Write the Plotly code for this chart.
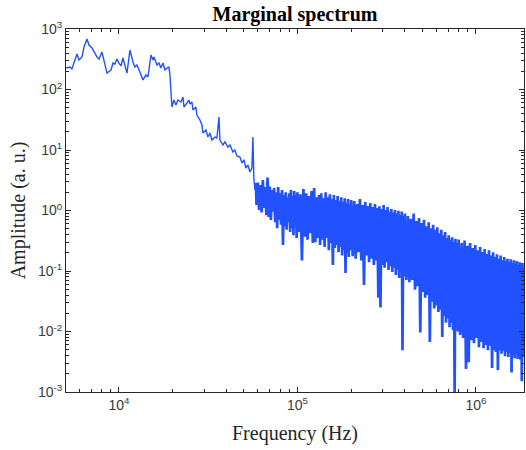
import math
import plotly.graph_objects as go

# ---- traced low-frequency part (kHz, a.u.) ----
freq_low_khz = [5.05, 5.31, 5.45, 5.60, 5.82, 5.97, 6.21, 6.37, 6.62, 6.79,
                7.06, 7.53, 7.73, 8.03, 8.24, 8.57, 9.02, 9.26, 9.50, 9.74,
                10.0, 10.26, 10.53, 10.66, 11.09, 11.52, 11.82, 11.98, 12.29, 12.61,
                13.11, 13.63, 14.17, 14.54, 15.11, 15.50, 15.71, 16.33, 16.76, 17.19,
                17.64, 18.10, 18.58, 19.06, 19.31, 19.56, 19.81, 20.33, 20.86, 21.40,
                22.25, 22.83, 23.13, 24.04, 24.67, 25.0, 25.64, 25.97, 27.0, 27.35,
                28.44, 29.17, 29.55, 30.72, 31.52, 32.35, 33.19, 34.5, 35.4, 36.33,
                36.8, 38.25, 39.25, 40.80, 41.9, 43.5, 44.65, 45.8, 47.6, 48.9,
                50.2, 51.4, 52.8, 54.2, 55.6, 56.3, 57.0, 57.8, 58.5]
amp_low = [226, 235, 218, 285, 386, 307, 345, 504, 684, 544,
           485, 345, 319, 417, 307, 187, 210, 274, 264, 319,
           274, 245, 332, 285, 187, 450, 307, 285, 235, 254,
           195, 144, 174, 161, 372, 307, 345, 254, 274, 226,
           274, 210, 226, 235, 174, 87.5, 51.4, 67, 55.4, 67,
           62.1, 75.2, 51.4, 59.8, 67, 57.5, 62.1, 45.8, 51.4, 37.9,
           31.3, 25.9, 19.1, 21.4, 16.4, 19.1, 14.6, 16.4, 15.8, 35.1,
           14.6, 12.1, 13.6, 11.2, 12.1, 9.27, 10.0, 7.96, 7.66, 6.1,
           6.84, 5.04, 5.65, 4.33, 5.04, 16.4, 3.44, 2.18, 2.85]

# ---- dense broadband part (kHz, a.u.) ----
freq_mid_khz = [59, 60, 61, 62, 63, 64, 65, 66, 67, 68,
                69, 70, 71, 72, 73, 74, 75, 76, 77, 78,
                79, 80, 81, 82, 83, 84, 85, 86, 87, 88,
                89, 90, 91, 92, 93, 94, 95, 96, 97, 98,
                99, 100,
                102, 104, 106, 108, 110, 112, 114, 116, 118, 120,
                122, 124, 126, 128, 130, 132, 134, 136, 138, 140,
                142, 144, 146, 148, 150, 152, 154, 156, 158, 160,
                162, 164, 166, 168, 170, 172, 174, 176, 178, 180,
                182, 184, 186, 188, 190, 192, 194, 196, 198, 200]
amp_mid = [1.23, 2.9, 1.02, 2.64, 0.93, 3.19, 1.10, 2.44, 0.84, 3.5,
           0.78, 2.5, 0.70, 2.18, 0.96, 2.35, 0.64, 2.0, 0.51, 2.44,
           0.70, 1.93, 0.58, 2.18, 0.27, 1.80, 0.55, 2.0, 0.48, 1.66,
           0.64, 1.93, 0.44, 2.18, 0.51, 1.73, 0.39, 2.1, 0.53, 1.80,
           0.35, 2.0,
           0.44, 1.86, 0.15, 2.27, 0.37, 1.93, 0.33, 1.73, 0.42, 2.1,
           0.29, 2.35, 0.30, 1.66, 0.35, 1.80, 0.27, 1.93, 0.33, 1.60,
           0.25, 2.0, 0.35, 1.66, 0.22, 1.86, 0.29, 1.55, 0.126, 1.80,
           0.24, 1.49, 0.27, 1.73, 0.205, 1.43, 0.25, 1.66, 0.18, 1.38,
           0.22, 1.60, 0.093, 1.33, 0.196, 1.55, 0.17, 1.28, 0.22, 1.49]

freq_high_khz = [204, 208, 212, 216, 220, 224, 228, 232, 236, 240,
                 244, 248, 252, 256, 260, 264, 268, 272, 276, 280,
                 284, 288, 292, 296, 300, 304, 308, 312, 316, 320,
                 324, 328, 332, 336, 340, 344, 348, 352, 356, 360,
                 364, 368, 372, 376, 380, 384, 388, 392, 396, 400,
                 408, 416, 424, 432, 440, 448, 456, 464, 472, 480,
                 488, 496, 504, 512, 520, 528, 536, 544, 552, 560,
                 568, 576, 584, 592, 600, 608, 616, 624, 632, 640,
                 648, 656, 664, 672, 680, 688, 696, 704, 712, 720,
                 728, 736, 744, 752, 760, 768, 776, 784, 792, 800,
                 816, 832, 848, 864, 880, 896, 912, 928, 944, 960,
                 976, 992, 1008, 1024, 1040, 1056, 1072, 1088, 1104, 1120,
                 1136, 1152, 1168, 1184, 1200, 1216, 1232, 1248, 1264, 1280,
                 1296, 1312, 1328, 1344, 1360, 1376, 1392, 1408, 1424, 1440,
                 1456, 1472, 1488, 1504, 1520, 1536, 1552, 1568, 1584, 1600,
                 1616, 1632, 1648, 1664, 1680, 1696, 1712, 1728, 1744, 1760,
                 1776, 1792, 1808, 1824, 1840, 1856]
amp_high = [0.175, 1.43, 0.16, 1.28, 0.205, 1.55, 0.15, 1.23, 0.059, 1.38,
            0.18, 1.18, 0.14, 1.33, 0.16, 1.14, 0.126, 1.28, 0.15, 1.10,
            0.036, 1.18, 0.025, 1.06, 0.126, 1.23, 0.113, 1.02, 0.14, 1.14,
            0.104, 0.96, 0.12, 1.06, 0.096, 0.93, 0.113, 1.02, 0.086, 0.89,
            0.104, 0.99, 0.077, 0.84, 0.096, 0.96, 0.0049, 0.81, 0.081, 0.89,
            0.071, 0.81, 0.065, 0.73, 0.071, 0.89, 0.049, 0.67, 0.056, 0.75,
            0.0096, 0.62, 0.045, 0.70, 0.036, 0.55, 0.040, 0.64, 0.0067, 0.51,
            0.031, 0.58, 0.024, 0.48, 0.027, 0.53, 0.021, 0.42, 0.023, 0.48,
            0.0081, 0.39, 0.018, 0.44, 0.014, 0.35, 0.0166, 0.39, 0.0118, 0.33,
            0.014, 0.36, 0.0106, 0.30, 0.0009, 0.34, 0.012, 0.29, 0.0100, 0.33,
            0.0088, 0.29, 0.0078, 0.32, 0.0024, 0.26, 0.0031, 0.29, 0.0072, 0.24,
            0.0064, 0.27, 0.0078, 0.22, 0.0055, 0.25, 0.0067, 0.205, 0.0053, 0.23,
            0.0060, 0.19, 0.0049, 0.22, 0.0058, 0.18, 0.0025, 0.205, 0.0049, 0.17,
            0.0046, 0.19, 0.0023, 0.16, 0.0049, 0.18, 0.0043, 0.15, 0.0048, 0.17,
            0.0039, 0.146, 0.0046, 0.16, 0.0038, 0.14, 0.0044, 0.156, 0.0021, 0.135,
            0.0041, 0.15, 0.0036, 0.13, 0.0043, 0.146, 0.0035, 0.126, 0.0039, 0.14,
            0.0034, 0.12, 0.0015, 0.135, 0.0038, 0.117]

# ---- axes ----
x_range_hz = [5050, 1.86e6]
y_range = [1e-3, 1e3]
x_tick_vals = [1e4, 1e5, 1e6]
x_tick_text = ["10<sup>4</sup>", "10<sup>5</sup>", "10<sup>6</sup>"]
y_tick_vals = [1e-3, 1e-2, 1e-1, 1e0, 1e1, 1e2, 1e3]
y_tick_text = ["10<sup>-3</sup>", "10<sup>-2</sup>", "10<sup>-1</sup>", "10<sup>0</sup>",
               "10<sup>1</sup>", "10<sup>2</sup>", "10<sup>3</sup>"]

low_hz = [f * 1000 for f in freq_low_khz]
dense_hz = [low_hz[-1]] + [f * 1000 for f in freq_mid_khz + freq_high_khz]
dense_amp = [amp_low[-1]] + amp_mid + amp_high

line_color = "#2252ff"
axis_color = "#262626"
serif = "Liberation Serif, Times New Roman, serif"

fig = go.Figure()
fig.add_trace(go.Scatter(x=low_hz, y=amp_low, mode="lines",
                         line=dict(color=line_color, width=1.4),
                         showlegend=False, hoverinfo="skip"))
fig.add_trace(go.Scatter(x=dense_hz, y=dense_amp, mode="lines",
                         line=dict(color=line_color, width=2.7),
                         showlegend=False, hoverinfo="skip"))

common = dict(type="log", showline=True, linecolor=axis_color, linewidth=1,
              mirror="ticks", ticks="inside", ticklen=5, tickcolor=axis_color,
              showgrid=False, zeroline=False, tickmode="array",
              tickfont=dict(family="Liberation Sans, Arial", size=14, color="#3a3a3a"),
              minor=dict(ticks="inside", ticklen=3, tickcolor=axis_color, dtick="D1",
                         showgrid=False))

fig.update_layout(
    width=526, height=450,
    margin=dict(l=66, r=2, t=29, b=58),
    paper_bgcolor="white", plot_bgcolor="white",
    title=dict(text="<b>Marginal spectrum</b>", x=0.5, xref="paper", xanchor="center",
               y=1 - 14 / 450, yanchor="middle",
               font=dict(family=serif, size=20, color="black")),
    xaxis=dict(range=[math.log10(x_range_hz[0]), math.log10(x_range_hz[1])],
               tickvals=x_tick_vals, ticktext=x_tick_text,
               title=dict(text="Frequency (Hz)", standoff=14,
                          font=dict(family=serif, size=20, color=axis_color)),
               **common),
    yaxis=dict(range=[math.log10(y_range[0]), math.log10(y_range[1])],
               tickvals=y_tick_vals, ticktext=y_tick_text,
               title=dict(text="Amplitude (a. u.)", standoff=6,
                          font=dict(family=serif, size=20, color=axis_color)),
               **common),
)

fig.write_html("out.html")
